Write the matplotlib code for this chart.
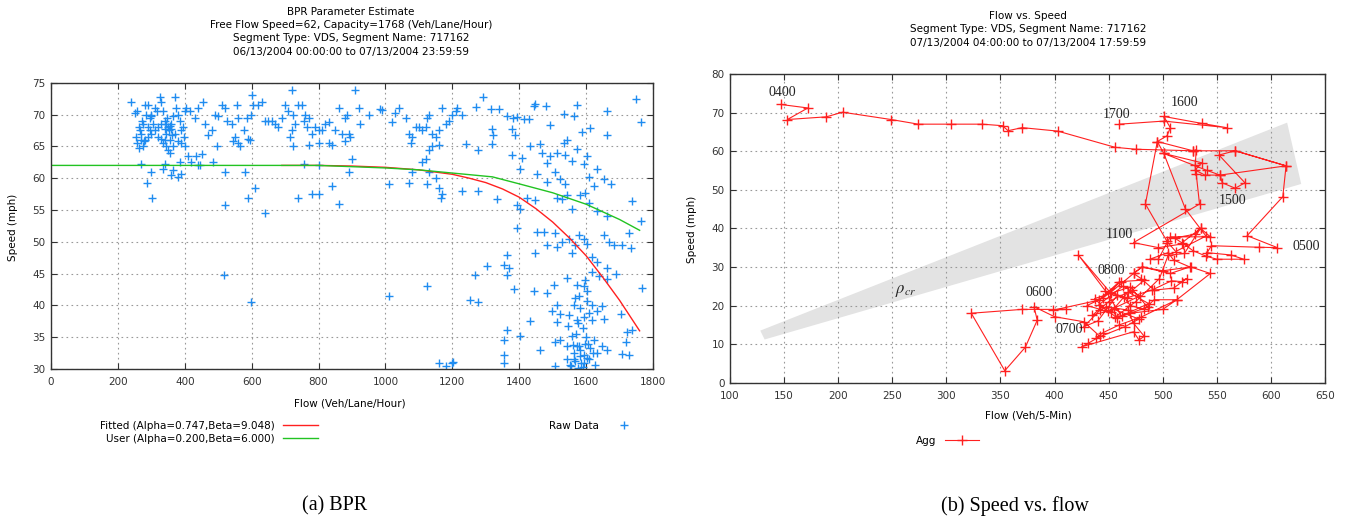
import matplotlib
matplotlib.use("Agg")
import matplotlib.pyplot as plt

plt.rcParams["font.family"] = "DejaVu Sans"
plt.rcParams["mathtext.fontset"] = "stix"

W, H = 1346, 521

# ---- (a) BPR: raw detector samples (flow veh/lane/hour, speed mph)
raw_flow = [
    240, 250, 258, 262, 255, 258, 262, 270, 275, 280, 285, 290, 295, 298, 300, 297, 300, 305, 290, 280,
    278, 310, 318, 325, 330, 335, 340, 345, 350, 352, 355, 358, 360, 362, 340, 335, 330, 345, 350, 355,
    365, 370, 375, 380, 385, 390, 395, 400, 405, 398, 388, 380, 400, 410, 435, 440, 450, 420, 270, 298,
    286, 302, 335, 340, 360, 365, 380, 390, 385, 265, 272, 268, 290, 310, 320, 345, 348, 365, 372, 275,
    320, 355, 342, 330,
    415, 430, 440, 455, 460, 470, 480, 490, 500, 510, 520, 525, 540, 555, 560, 550, 560, 545, 565, 578,
    585, 590, 595, 598, 600, 605, 620, 630, 640, 650, 495, 485, 445, 520, 580, 610, 520, 590, 640, 518,
    597, 660, 670, 680, 690,
    700, 710, 720, 725, 730, 740, 750, 760, 755, 765, 770, 780, 790, 800, 720, 715, 725, 770, 755, 800,
    830, 840, 820, 830, 850, 860, 870, 880, 885, 890, 895, 900, 890, 740, 780, 800, 840, 860, 800, 810,
    880,
    910, 920, 925, 950, 985, 990, 1020, 1030, 1040, 1060, 1070, 1080, 1090, 1100, 1110, 1120, 1125, 1130,
    1140, 1150, 1160, 1170, 1180, 1190, 1200, 1210, 1215, 1230, 1075, 1110, 1120, 1130, 1140, 1160, 1130,
    1150, 1160, 1170, 1165, 1080, 1070, 1010, 1125, 1230, 1010, 1125, 1160, 1200, 1180,
    1293, 1270, 1316, 1341, 1363, 1381, 1393, 1413, 1428, 1443, 1448, 1479, 1493, 1535, 1563, 1573, 1588,
    1613, 1661, 1663, 1748, 1763, 1318, 1323, 1318, 1278, 1241, 1378, 1388, 1378, 1408, 1403, 1433, 1463,
    1468, 1483, 1493, 1513, 1533, 1543, 1538, 1558, 1573, 1593, 1603, 1633, 1608, 1623, 1653, 1673, 1453,
    1483, 1508, 1523, 1538, 1513, 1528, 1543, 1558, 1583, 1598, 1608, 1633, 1663, 1738, 1763, 1278, 1333,
    1393, 1403, 1423, 1448, 1393, 1453, 1473, 1508, 1513, 1528, 1548, 1568, 1558, 1578, 1593, 1603, 1618,
    1633, 1653, 1668, 1683, 1708, 1733, 1728, 1448, 1483, 1363, 1353, 1303, 1368, 1268, 1363, 1383, 1443,
    1483, 1503, 1543, 1573, 1598, 1603, 1618, 1638, 1663, 1688, 1661, 1768, 1253, 1278, 1498, 1513, 1523,
    1568, 1583, 1603, 1618, 1633, 1648, 1513, 1573, 1593, 1618, 1653, 1703, 1433, 1363, 1353, 1403, 1463,
    1508, 1523, 1543, 1558, 1573, 1583, 1598, 1613, 1623, 1633, 1648, 1663, 1708, 1718, 1728, 1738, 1723,
    1353, 1353, 1543, 1553, 1568, 1583, 1593, 1603, 1628, 1563, 1578, 1508, 1203,
    1555, 1565, 1575, 1585, 1595, 1560, 1570, 1590, 1600, 1610, 1550, 1565, 1580, 1595, 1610, 1620, 1545,
    1590, 1605, 1575,
]
raw_speed = [
    72, 70.3, 70.5, 68, 66.5, 65.5, 64.8, 67, 68.5, 71.5, 70, 71.5, 69.5, 70, 69.8, 67.5, 67, 68.5, 66.5, 66,
    65.8, 71, 70.5, 72.8, 72, 70.5, 69, 68.5, 68, 67.5, 68.2, 67.8, 68.5, 66.8, 66, 65.5, 66.2, 65, 64.5, 64,
    65, 72.8, 71, 70, 69, 67.5, 68, 70.5, 71, 66.5, 65.5, 65.8, 65, 63.5, 63.5, 62, 63.8, 62.5, 62.2, 61,
    59.2, 56.8, 61.5, 62.3, 60.5, 61.2, 60.2, 60.7, 62.5, 67.5, 69, 66, 68, 67.5, 68, 67, 69.5, 69.8, 67, 65,
    66.5, 66, 67.8, 68.5,
    70.5, 69.5, 71, 72, 68.5, 66.8, 67.5, 70, 69.8, 71.5, 71, 69, 68.5, 71.5, 69.5, 66.5, 65.5, 65.8, 65, 67.5,
    69.5, 66.2, 66, 70, 73, 71.5, 71.5, 72, 69, 69, 65, 62.5, 62, 61, 61, 58.5, 55.7, 56.8, 54.5, 44.8,
    40.5, 69, 68.5, 68, 69.5,
    71.5, 70.5, 73.8, 70, 68.5, 71.5, 71.5, 70, 69, 68, 69.5, 67, 68, 67.5, 67.5, 66.5, 65, 65.2, 62.2, 62,
    65.5, 65.2, 68.5, 68.8, 67.5, 71, 67, 69.5, 70, 67, 66.5, 63, 61, 56.8, 57.5, 57.5, 58.8, 56, 65.5, 67.5,
    65.8,
    73.8, 71, 68.5, 70, 70.8, 70.7, 68.8, 70.2, 71, 69.5, 67, 66.5, 68, 68, 67.5, 68, 69.5, 70,
    67, 66.5, 67.5, 71, 68.5, 69, 70, 70.5, 71, 70, 65.5, 62.5, 63, 64.5, 65, 65.2, 61,
    60, 58.5, 57.5, 56.8, 61, 59.2, 59, 59, 58, 41.5, 43, 31, 31, 30.5,
    72.8, 71.2, 70.8, 70.9, 69.7, 69.4, 69.6, 69.3, 69.3, 71.4, 71.7, 71.4, 68.3, 70.1, 69.8, 71.5, 67.3,
    67.9, 70.5, 66.8, 72.5, 68.8, 67.8, 66.8, 65.3, 64.5, 65.3, 67.8, 66.8, 63.7, 63.2, 61.4, 65, 65.3,
    64, 62.4, 63.5, 64, 65.5, 66, 63.7, 62.7, 64.6, 62.2, 63.5, 61.4, 60.1, 58.8, 59.8, 59.1, 60.7,
    59.4, 61, 59.8, 59.1, 56.9, 56.7, 57.4, 55.2, 57.4, 57.7, 56.1, 54.8, 54.1, 56.4, 53.3, 58, 56.7,
    55.7, 55.1, 56.9, 56.5, 52.1, 51.6, 51.6, 51.3, 49.2, 50, 50.5, 49.5, 48.2, 51.1, 50.5, 49.7, 47.6,
    46.8, 51.1, 50, 49.5, 49.5, 49, 51.3, 48.2, 49.5, 47.9, 46.3, 46.2, 45.8, 44.8, 44.8, 42.6, 42.2,
    42, 43.2, 44.3, 43.2, 44, 42.2, 45.2, 44.6, 45.8, 45, 44.1, 42.8, 40.9, 40.6, 39.1, 40.1, 38.6,
    41.2, 39.6, 40.7, 40.1, 39.1, 39.9, 37.4, 37.7, 38.2, 37.7, 37.9, 38.7, 37.6, 36.1, 34.6, 35.2, 33,
    34.3, 34.6, 33.6, 35.2, 33.6, 33, 34, 33.3, 34.6, 32.5, 33.6, 33, 32.3, 34.3, 32.2, 36.1, 35.8,
    32.2, 30.9, 31.5, 30.7, 31.2, 32, 30.9, 31.7, 30.7, 32.5, 33.6, 30.4, 31.1,
    30.5, 31.5, 30.2, 31, 32.2, 33.8, 35.5, 36.5, 35, 31.5, 38.5, 40, 41.5, 43, 38.8, 32.5, 36.8,
    30.3, 34, 37.2,
]

# BPR curves
fit_flow = [690, 800, 900, 1000, 1100, 1200, 1250, 1300, 1350, 1400, 1450, 1500, 1550, 1600, 1650, 1700, 1760]
fit_speed = [62, 62, 61.9, 61.7, 61.3, 60.6, 60.0, 59.3, 58.3, 57.0, 55.2, 53.1, 50.6, 47.8, 44.4, 40.8, 36.0]
user_flow = [0, 200, 400, 600, 800, 900, 1000, 1100, 1200, 1320, 1400, 1500, 1600, 1700, 1760]
user_speed = [62, 62, 62, 62, 62, 61.8, 61.6, 61.3, 60.8, 60.2, 59.1, 57.7, 55.9, 53.5, 51.8]

# ---- (b) flow vs speed trajectory, 07/13/2004 04:00-17:59 (veh/5-min, mph)
agg_flow = [
    147, 172, 153, 189, 204, 249, 274, 304, 333, 352, 357, 370, 403, 456, 475, 528, 567, 614, 611, 578,
    606, 589, 545, 541, 563, 575, 550, 540, 528, 518, 535, 544, 507, 504, 496, 488, 505, 510, 525, 507,
    481, 473, 451, 460, 441, 399, 411, 370, 323, 354, 373, 384, 381, 400, 427, 442, 431, 425, 473, 478,
    483, 473, 468, 448, 442, 427, 440, 458, 464, 470, 483, 492, 513, 480, 460, 445, 438, 465, 478, 455,
    435, 450, 472, 483, 461, 445, 430, 452, 468, 487, 458, 441, 463, 479, 449, 437, 470, 486, 462, 447,
    422, 452, 467, 490, 508, 518, 522, 510, 492, 480, 473, 481, 500,
    526, 544, 513, 500, 470, 456, 475, 497, 505, 520, 535, 530, 511, 519, 496, 473, 534, 531, 530, 531,
    528, 495, 484, 504, 512, 540, 521, 501, 536, 530, 539, 553, 555, 567, 576, 552, 567, 614, 553, 541,
    501, 495, 504, 507, 501, 536, 559, 501, 460,
]
agg_speed = [
    72.1, 71.2, 68.2, 68.9, 70.1, 68.2, 67, 67, 67, 66.6, 65.3, 66.1, 65.2, 61, 60.5, 60.1, 60.1, 56.2, 48.2, 38.1,
    35, 35.1, 35.5, 33.7, 33.1, 32, 32, 32.8, 34.2, 36.3, 40, 37.8, 37.8, 36.3, 32, 32, 33.7, 31.8, 30, 28.3,
    30, 28.3, 23.2, 26.2, 21.4, 18.8, 19, 19, 18, 3.1, 9.2, 16.2, 19.7, 17.1, 15.8, 12, 10.2, 9.3, 13.2, 11.1,
    12, 15.4, 18.8, 19.7, 18.8, 14.5, 16, 22.7, 22.3, 20, 19, 21.5, 21.5, 17, 15, 13, 11.5, 14.5, 16.5, 19,
    17.5, 21, 24, 26.6, 26.2, 22, 20, 18.2, 23.5, 20.5, 16.8, 20.2, 25, 22.5, 18.5, 21.8, 24.8, 19.6, 17.2, 23.8,
    33.1, 23.2, 22, 24, 26.4, 26.2, 27, 24.5, 24, 27, 28.3, 30, 29,
    30, 28.3, 21.5, 19, 18, 17, 21, 27, 33, 33.5, 40, 38.5, 37.5, 36, 35, 36.3, 46.3, 54, 56.3, 60.4,
    60.1, 62.5, 46.3, 36.6, 34, 38, 45, 59.4, 57, 55.1, 53.8, 53.8, 51.8, 50.4, 51.8, 59, 60.1, 56.2, 53.8, 55,
    59.4, 62.5, 64, 66.1, 69, 67.2, 66.1, 67.8, 67,
]
hour_labels = ["0400", "0500", "0600", "0700", "0800", "1100", "1500", "1600", "1700"]
hour_flow = [148, 633, 386, 414, 452, 460, 565, 520, 457]
hour_speed = [75.2, 35.4, 23.4, 13.8, 29.2, 38.5, 47.3, 72.7, 69.6]

# critical-density band
band_flow = [128, 615, 628, 132]
band_speed = [13.5, 67.4, 51.5, 11.2]

BLUE = "#1f8cf0"
RED = "#ff2020"
GREEN = "#22c322"
FS = 7.5


def px(x, y):
    return x / W, 1 - y / H


def style_axes(ax):
    ax.tick_params(direction="in", top=True, right=True, length=4, width=0.8,
                   labelsize=FS, colors="#333333")
    ax.grid(True, linestyle=(0, (1.5, 3)), color="#999999", linewidth=0.8)
    for s in ax.spines.values():
        s.set_color("#333333")
        s.set_linewidth(1.0)


fig = plt.figure(figsize=(W / 100, H / 100), dpi=100)

# ---------------- left panel
ax1 = fig.add_axes([51 / W, 1 - 369 / H, 602 / W, 286.3 / H])
raw_h, = ax1.plot(raw_flow, raw_speed, "+", color=BLUE, markersize=6, markeredgewidth=1.0)
fit_h, = ax1.plot(fit_flow, fit_speed, color=RED, linewidth=1.0)
user_h, = ax1.plot(user_flow, user_speed, color=GREEN, linewidth=1.0)
ax1.set_xlim(0, 1800)
ax1.set_ylim(30, 75)
ax1.set_xticks(range(0, 1801, 200))
ax1.set_yticks(range(30, 76, 5))
style_axes(ax1)
ax1.tick_params(axis="x", pad=6)
ax1.tick_params(axis="y", pad=4)

for i, line in enumerate(["BPR Parameter Estimate",
                          "Free Flow Speed=62, Capacity=1768 (Veh/Lane/Hour)",
                          "Segment Type: VDS, Segment Name: 717162",
                          "06/13/2004 00:00:00 to 07/13/2004 23:59:59"]):
    fig.text(*px(351, 12 + 13.2 * i), line, ha="center", va="center", fontsize=FS)
fig.text(*px(13, 227), "Speed (mph)", rotation=90, ha="center", va="center", fontsize=FS)
fig.text(*px(350, 403), "Flow (Veh/Lane/Hour)", ha="center", va="center", fontsize=FS)

fig.legend([fit_h, user_h],
           ["Fitted (Alpha=0.747,Beta=9.048)", "User (Alpha=0.200,Beta=6.000)"],
           loc="upper right", bbox_to_anchor=px(318, 421), markerfirst=False,
           frameon=False, fontsize=FS, handlelength=3.4, handletextpad=0.8,
           labelspacing=0.25, borderpad=0, borderaxespad=0)
fig.legend([raw_h], ["Raw Data"], loc="upper right", bbox_to_anchor=px(634, 421),
           markerfirst=False, frameon=False, fontsize=FS, handlelength=2,
           handletextpad=1.4, borderpad=0, borderaxespad=0, numpoints=1)

# ---------------- right panel
ax2 = fig.add_axes([730 / W, 1 - 382.7 / H, 595 / W, 308.7 / H])
ax2.fill(band_flow, band_speed, color="#e3e3e3", linewidth=0, zorder=1)
agg_h, = ax2.plot(agg_flow, agg_speed, "-+", color=RED, linewidth=0.8, markersize=7,
                  markeredgewidth=1.0, zorder=3)
for lab, xf, ys in zip(hour_labels, hour_flow, hour_speed):
    ax2.text(xf, ys, lab, ha="center", va="center", fontsize=10,
             family="Liberation Serif", color="#222222", zorder=4)
ax2.text(262, 24, r"$\rho_{cr}$", ha="center", va="center", fontsize=12, color="#222222")
ax2.set_xlim(100, 650)
ax2.set_ylim(0, 80)
ax2.set_xticks(range(100, 651, 50))
ax2.set_yticks(range(0, 81, 10))
style_axes(ax2)
ax2.tick_params(axis="x", pad=6)
ax2.tick_params(axis="y", pad=4)

for i, line in enumerate(["Flow vs. Speed",
                          "Segment Type: VDS, Segment Name: 717162",
                          "07/13/2004 04:00:00 to 07/13/2004 17:59:59"]):
    fig.text(*px(1028, 16 + 13.5 * i), line, ha="center", va="center", fontsize=FS)
fig.text(*px(692, 229), "Speed (mph)", rotation=90, ha="center", va="center", fontsize=FS)
fig.text(*px(1028, 415), "Flow (Veh/5-Min)", ha="center", va="center", fontsize=FS)

fig.legend([agg_h], ["Agg"], loc="upper right", bbox_to_anchor=px(979, 436),
           markerfirst=False, frameon=False, fontsize=FS, handlelength=3.3,
           handletextpad=0.8, borderpad=0, borderaxespad=0, numpoints=1)

# captions
fig.text(*px(335, 506), "(a) BPR", ha="center", va="center", fontsize=14.5, family="Liberation Serif")
fig.text(*px(1015, 506), "(b) Speed vs. flow", ha="center", va="center", fontsize=14.5,
         family="Liberation Serif")

fig.savefig("out.png", dpi=100)
